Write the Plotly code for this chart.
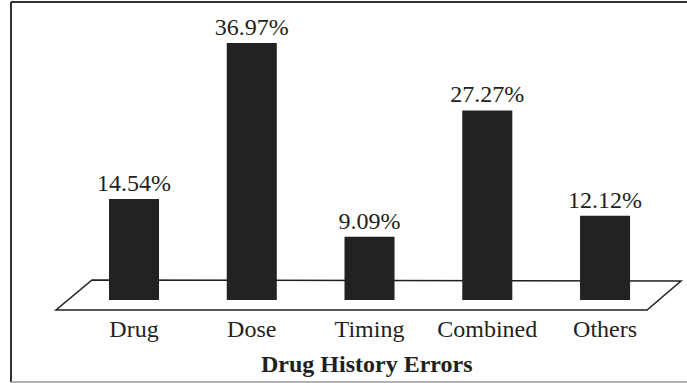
import plotly.graph_objects as go

categories = ["Drug", "Dose", "Timing", "Combined", "Others"]
values = [14.54, 36.97, 9.09, 27.27, 12.12]
value_labels = ["14.54%", "36.97%", "9.09%", "27.27%", "12.12%"]
axis_title = "Drug History Errors"

W, H = 687, 383
PLOT_BOTTOM = 300  # pixel row of the bar baseline
DARK = "#231f20"
FONT = "Liberation Serif, Times New Roman, serif"

def px(x):
    return x / W

def py(y):
    return (PLOT_BOTTOM - y) / PLOT_BOTTOM

fig = go.Figure(go.Bar(
    x=categories,
    y=values,
    text=value_labels,
    textposition="outside",
    constraintext="none",
    textfont=dict(family=FONT, size=24, color=DARK),
    marker=dict(color="#222222", line=dict(width=0)),
    width=0.425,
    cliponaxis=False,
))

floor = (f"M {px(92)} {py(280)} L {px(681)} {py(281)} "
         f"L {px(647)} {py(310)} L {px(56)} {py(310)} Z")

fig.update_layout(
    width=W, height=H,
    margin=dict(l=0, r=0, t=0, b=H - PLOT_BOTTOM, pad=0),
    paper_bgcolor="white", plot_bgcolor="rgba(0,0,0,0)",
    showlegend=False,
    font=dict(family=FONT, color=DARK),
    xaxis=dict(
        range=[-1.138, 4.696],
        showgrid=False, zeroline=False, showline=False, ticks="",
        tickfont=dict(family=FONT, size=24, color=DARK),
        ticklabelstandoff=12,
    ),
    yaxis=dict(
        range=[0, 43.17],
        visible=False, showgrid=False, zeroline=False,
    ),
    annotations=[
        dict(text="<b>" + axis_title + "</b>", xref="x", yref="paper",
             x=categories[2], y=py(364), xanchor="center", yanchor="middle",
             xshift=-3, showarrow=False,
             font=dict(family=FONT, size=24, color=DARK)),
    ],
    shapes=[
        dict(type="path", path=floor, xref="paper", yref="paper",
             line=dict(color=DARK, width=1.5), fillcolor="white", layer="below"),
        dict(type="line", xref="paper", yref="paper",
             x0=px(11), x1=1.0, y0=py(2), y1=py(2),
             line=dict(color="#333333", width=2)),
        dict(type="line", xref="paper", yref="paper",
             x0=px(11), x1=px(11), y0=py(2), y1=py(382),
             line=dict(color="#333333", width=2)),
        dict(type="line", xref="paper", yref="paper",
             x0=px(11), x1=1.0, y0=py(382), y1=py(382),
             line=dict(color="#999999", width=1.5)),
    ],
)

fig.write_html(
    "out.html",
    config={"displayModeBar": False},
    post_script="document.body.style.margin='0';document.body.style.overflow='hidden';",
)
